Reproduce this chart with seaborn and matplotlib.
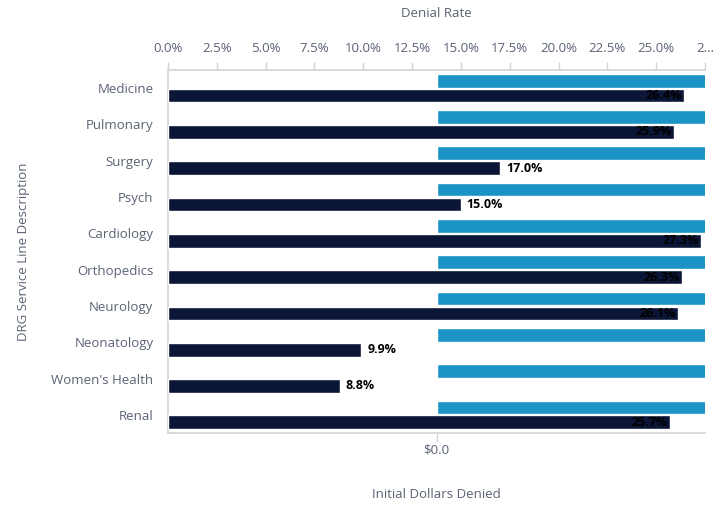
import matplotlib
matplotlib.use("Agg")
import matplotlib.pyplot as plt
import seaborn as sns
import pandas as pd
from matplotlib.ticker import FuncFormatter

# ---- data ----
categories = ["Medicine", "Pulmonary", "Surgery", "Psych", "Cardiology",
              "Orthopedics", "Neurology", "Neonatology", "Women's Health", "Renal"]
denial_rate = [26.4, 25.9, 17.0, 15.0, 27.3, 26.3, 26.1, 9.9, 8.8, 25.7]
# dollar amounts run beyond the visible axis range in the reference
dollars_denied = [5.0, 5.0, 5.0, 5.0, 5.0, 5.0, 5.0, 5.0, 5.0, 5.0]
rate_ticks = [0, 2.5, 5, 7.5, 10, 12.5, 15, 17.5, 20, 22.5, 25, 27.5]

LIGHT = "#1b94c5"
DARK = "#0b1535"
GRAY_TXT = "#5a6274"
SPINE = "#d3d3d9"

sns.set_style("white")
plt.rcParams["font.family"] = ["Open Sans", "DejaVu Sans"]

df_d = pd.DataFrame({"cat": categories, "val": dollars_denied, "metric": "dollars"})
df_r = pd.DataFrame({"cat": categories, "val": denial_rate, "metric": "rate"})
hue_order = ["dollars", "rate"]
pal = {"dollars": LIGHT, "rate": DARK}

fig = plt.figure(figsize=(7.2, 5.16), dpi=100)
ax = fig.add_axes([168 / 720, 1 - 433 / 516, (705 - 168) / 720, (433 - 70) / 516])

sns.barplot(data=df_d, y="cat", x="val", hue="metric", hue_order=hue_order,
            palette=pal, order=categories, dodge=True, width=0.82, gap=0.08,
            legend=False, ax=ax, saturation=1)
ax2 = ax.twiny()
sns.barplot(data=df_r, y="cat", x="val", hue="metric", hue_order=hue_order,
            palette=pal, order=categories, dodge=True, width=0.82, gap=0.08,
            legend=False, ax=ax2, saturation=1)
ax2.set_ylim(9.5, -0.5)
ax.set_ylim(9.5, -0.5)

# bottom axis (dollars)
ax.set_xlim(-1, 1)
ax.set_xticks([0])
ax.xaxis.set_major_formatter(FuncFormatter(lambda v, p: "$0.0"))
ax.set_xlabel("Initial Dollars Denied", color=GRAY_TXT, fontsize=9.5, labelpad=23)
ax.set_ylabel("DRG Service Line Description", color=GRAY_TXT, fontsize=9.5, labelpad=15)
ax.tick_params(axis="x", colors=SPINE, labelcolor=GRAY_TXT, labelsize=9.5,
               length=6.5, width=1, direction="out", bottom=True, pad=1)
ax.tick_params(axis="y", labelcolor=GRAY_TXT, labelsize=9.5, length=0, pad=10.5)
for s in ["left", "bottom", "top"]:
    ax.spines[s].set_visible(True)
    ax.spines[s].set_color(SPINE)
    ax.spines[s].set_linewidth(1.2)
ax.spines["right"].set_visible(False)

# top axis (denial rate)
ax2.set_xlim(0, 27.5)
ax2.set_xticks(rate_ticks)
ax2.set_xticklabels([f"{t:.1f}%" for t in rate_ticks[:-1]] + ["2..."])
ax2.set_xlabel("Denial Rate", color=GRAY_TXT, fontsize=9.5, labelpad=18)
ax2.set_ylabel("")
ax2.tick_params(axis="x", colors=SPINE, labelcolor=GRAY_TXT, labelsize=9.5,
                length=6, width=1, direction="out", top=True, pad=5)
for s in ["left", "right", "bottom", "top"]:
    ax2.spines[s].set_visible(False)

# value labels
for bar, v in zip([p for p in ax2.patches if p.get_width() > 0], denial_rate):
    y = bar.get_y() + bar.get_height() / 2
    txt = f"{v:.1f}%"
    if v + 2.1 > 27.5:
        ax2.text(v - 0.1, y, txt, ha="right", va="center", fontsize=9,
                 fontweight="bold", color="black")
    else:
        ax2.text(v + 0.3, y, txt, ha="left", va="center", fontsize=9,
                 fontweight="bold", color="black")

fig.savefig("out.png", dpi=100)
